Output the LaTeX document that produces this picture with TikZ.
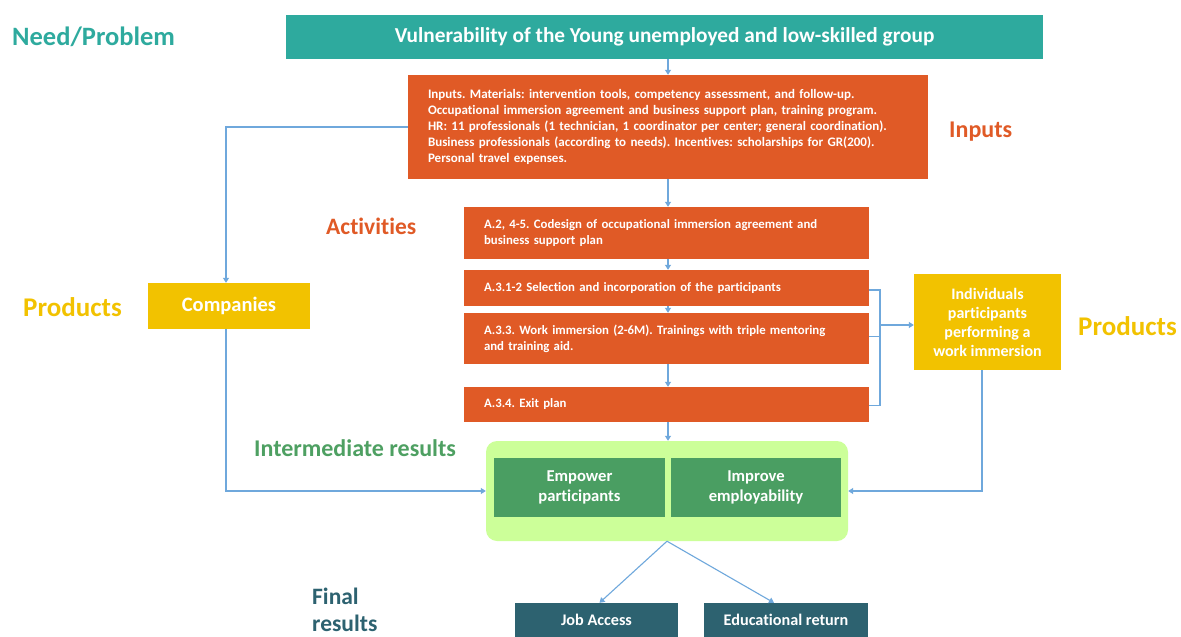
\documentclass[tikz,border=0pt]{standalone}
\usepackage{fontspec}
\setmainfont[Ligatures=NoCommon]{Carlito}
\usetikzlibrary{arrows.meta}
\definecolor{teal1}{HTML}{2EAA9E}
\definecolor{orange1}{HTML}{E05A26}
\definecolor{yellow1}{HTML}{F2C200}
\definecolor{lgreen}{HTML}{CCFF99}
\definecolor{dgreen}{HTML}{4A9E62}
\definecolor{igreen}{HTML}{4EA062}
\definecolor{conncol}{HTML}{6FA8DC}
\definecolor{fteal}{HTML}{2D6270}
\frenchspacing
\begin{document}
\begin{tikzpicture}[x=1pt,y=-1pt,
  box/.style={inner sep=0pt,text=white,font=\bfseries},
  conn/.style={draw=conncol,line width=1.1pt},
  arr/.style={conn,-{Triangle[width=6pt,length=5pt]}},
  lbl/.style={font=\bfseries\fontsize{27}{29}\selectfont,inner sep=0pt}
]
\useasboundingbox (0,0) rectangle (1181,637);
\fill[white] (0,0) rectangle (1181,637);
% labels
\node[lbl,text=teal1,anchor=west,font=\bfseries\fontsize{26.5}{29}\selectfont] (lneed) at (12,37) {Need/Problem};
\node[lbl,text=orange1,anchor=west,font=\bfseries\fontsize{24}{26}\selectfont] (linp) at (949,132) {Inputs};
\node[lbl,text=orange1,anchor=west,font=\bfseries\fontsize{23.5}{26}\selectfont] (lact) at (326,226) {Activities};
\node[lbl,text=yellow1,anchor=west] (lprod1) at (23,307) {Products};
\node[lbl,text=yellow1,anchor=west] (lprod2) at (1078,326) {Products};
\node[lbl,text=igreen,anchor=west,font=\bfseries\fontsize{24}{26}\selectfont] (lint) at (254,448) {Intermediate results};
\node[lbl,text=fteal,anchor=west,align=left,font=\bfseries\fontsize{23.5}{27}\selectfont] (lfin) at (312,610) {Final\\results};
% boxes
\node[box,fill=teal1,minimum width=757pt,minimum height=44pt,font=\bfseries\fontsize{21.3}{24}\selectfont] (title) at (664.5,37) {Vulnerability of the Young unemployed and low-skilled group};
\node[box,fill=orange1,minimum width=520pt,minimum height=104pt,inner xsep=20pt,text width=480pt,align=left,font=\bfseries\fontsize{13}{16}\selectfont] (inputs) at (668,127) {Inputs. Materials: intervention tools, competency assessment, and follow-up.\\Occupational immersion agreement and business support plan, training program.\\HR: 11 professionals (1 technician, 1 coordinator per center; general coordination).\\Business professionals (according to needs). Incentives: scholarships for GR(200).\\Personal travel expenses.};
\tikzset{abox/.style={box,fill=orange1,minimum width=405pt,inner xsep=20pt,text width=365pt,align=left,font=\bfseries\fontsize{12.8}{16}\selectfont}}
\node[abox,minimum height=52pt] (a2) at (666.5,233) {A.2, 4-5. Codesign of occupational immersion agreement and\\business support plan};
\node[abox,minimum height=36pt] (a31) at (666.5,288) {A.3.1-2 Selection and incorporation of the participants};
\node[abox,minimum height=51pt] (a33) at (666.5,338.5) {A.3.3. Work immersion (2-6M). Trainings with triple mentoring\\and training aid.};
\node[abox,minimum height=35pt] (a34) at (666.5,404.5) {A.3.4. Exit plan};
\node[box,fill=yellow1,minimum width=162pt,minimum height=46pt,font=\bfseries\fontsize{20.5}{22}\selectfont] (comp) at (229,306) {Companies};
\node[box,fill=yellow1,minimum width=147pt,minimum height=96pt,align=center,font=\bfseries\fontsize{16}{19}\selectfont] (ind) at (987.5,322) {Individuals\\participants\\performing a\\work immersion};
\node[fill=lgreen,rounded corners=11pt,minimum width=362pt,minimum height=100pt,inner sep=0pt] (green) at (667,491) {};
\node[box,fill=dgreen,minimum width=171pt,minimum height=59pt,align=center,font=\bfseries\fontsize{16.6}{20}\selectfont] (emp) at (579.5,487.5) {Empower\\participants};
\node[box,fill=dgreen,minimum width=170pt,minimum height=59pt,align=center,font=\bfseries\fontsize{16.6}{20}\selectfont] (imp) at (756,487.5) {Improve\\employability};
\node[box,fill=fteal,minimum width=163pt,minimum height=34pt,font=\bfseries\fontsize{16.2}{18}\selectfont] (job) at (596.5,620) {Job Access};
\node[box,fill=fteal,minimum width=164pt,minimum height=34pt,font=\bfseries\fontsize{16.2}{18}\selectfont] (edu) at (786,620) {Educational return};
% connectors
\coordinate (sp) at (668,0);
\draw[arr] (title.south -| sp) -- (inputs.north -| sp);
\draw[arr] (inputs.south -| sp) -- (a2.north -| sp);
\draw[arr] (a2.south -| sp) -- (a31.north -| sp);
\draw[arr] (a31.south -| sp) -- (a33.north -| sp);
\draw[arr] (a33.south -| sp) -- (a34.north -| sp);
\draw[arr] (a34.south -| sp) -- (green.north -| sp);
\draw[arr] (inputs.west) -| ([xshift=-3pt]comp.north);
\draw[arr] ([xshift=-3pt]comp.south) |- (green.west);
\draw[arr] ([xshift=-5.5pt]ind.south) |- (green.east);
\coordinate (br) at (880,325);
\draw[conn] ([yshift=-2pt]a31.east) -| (br);
\draw[conn] ([yshift=2pt]a33.east) -| (br);
\draw[conn] ([yshift=-1pt]a34.east) -| (br);
\draw[arr] (br) -- (ind.west |- br);
\draw[arr] (green.south) -- ([xshift=3pt]job.north);
\draw[arr] (green.south) -- ([xshift=-12pt]edu.north);
\end{tikzpicture}
\end{document}
